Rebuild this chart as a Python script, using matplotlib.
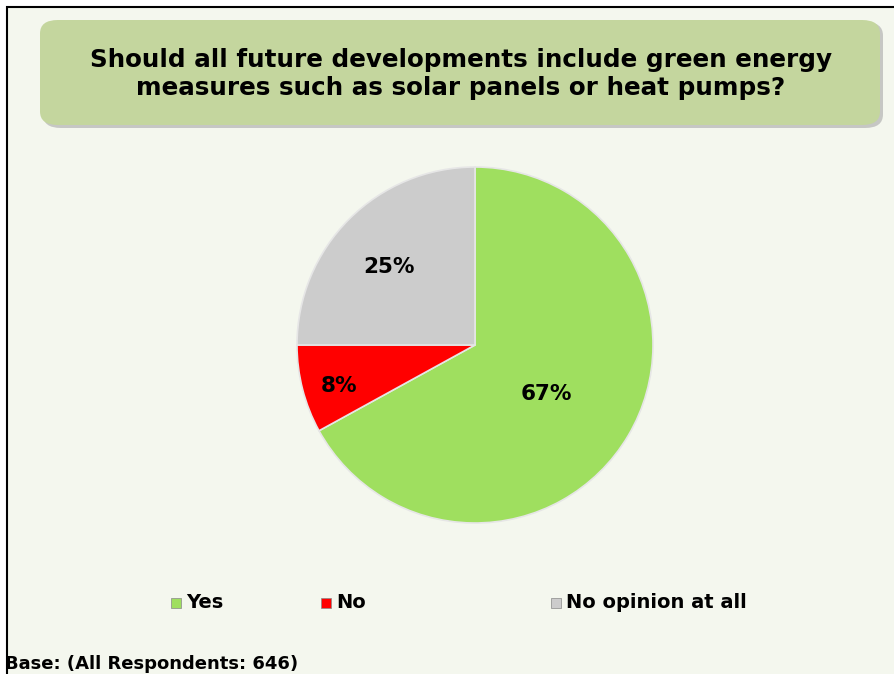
import matplotlib
matplotlib.use("Agg")
import matplotlib.pyplot as plt
from matplotlib.patches import FancyBboxPatch, Rectangle
from matplotlib.transforms import ScaledTranslation
import numpy as np

categories = ["Yes", "No", "No opinion at all"]
values = [67, 8, 25]
colors = ["#9FDF5F", "#FF0000", "#CCCCCC"]
title = "Should all future developments include green energy\nmeasures such as solar panels or heat pumps?"
base_text = "Base: (All Respondents: 646)"

W, H = 895, 674
fig = plt.figure(figsize=(W / 100, H / 100), dpi=100)
fig.patch.set_facecolor("#F4F7EE")

def fx(px):
    return px / W

def fy(py):
    return 1 - py / H

# border
fig.add_artist(Rectangle((fx(7), fy(700)), fx(900) - fx(7), fy(7) - fy(700),
                         transform=fig.transFigure, facecolor="none",
                         edgecolor="black", linewidth=1.5, zorder=5))
# white margin above/left of border
fig.add_artist(Rectangle((0, 0), fx(6.2), 1, transform=fig.transFigure,
                         facecolor="white", edgecolor="none", zorder=4))
fig.add_artist(Rectangle((0, fy(6.2)), 1, 6.2 / H, transform=fig.transFigure,
                         facecolor="white", edgecolor="none", zorder=4))

# title box with shadow
fig.add_artist(FancyBboxPatch((fx(43), fy(128)), fx(883) - fx(43), fy(22) - fy(128),
                              boxstyle="round,pad=0,rounding_size=0.02",
                              transform=fig.transFigure, facecolor="#A8A8A8",
                              edgecolor="none", alpha=0.6, zorder=1))
fig.add_artist(FancyBboxPatch((fx(40), fy(125)), fx(880) - fx(40), fy(20) - fy(125),
                              boxstyle="round,pad=0,rounding_size=0.02",
                              transform=fig.transFigure, facecolor="#C4D69E",
                              edgecolor="none", zorder=2))
fig.text(fx(461), fy(74), title, ha="center", va="center", fontsize=17.7,
         fontweight="bold", color="black", linespacing=1.2, zorder=3)

# pie
cx, cy, r = 475, 345, 178
ax = fig.add_axes([fx(cx - r), fy(cy + r), 2 * r / W, 2 * r / H])
wedges, _ = ax.pie(values, colors=colors, startangle=90, counterclock=False,
                   radius=1, wedgeprops=dict(edgecolor="#E6E6E6", linewidth=1.2))
ax.set_xlim(-1, 1)
ax.set_ylim(-1, 1)
ax.axis("off")
label_dist = [0.48, 0.78, 0.67]
shift = ax.transData + ScaledTranslation(-2 / 100, -6 / 100, fig.dpi_scale_trans)
for w, v, d in zip(wedges, values, label_dist):
    ang = np.deg2rad((w.theta1 + w.theta2) / 2)
    ax.text(d * np.cos(ang), d * np.sin(ang), f"{v}%", ha="center", va="center",
            fontsize=15.5, fontweight="bold", color="black", transform=shift)

# legend
leg_x = [176, 326, 556]
leg_y = 603
for x, c, lab in zip(leg_x, colors, categories):
    fig.add_artist(Rectangle((fx(x - 5), fy(leg_y + 5)), fx(10), 10 / H,
                             transform=fig.transFigure, facecolor=c,
                             edgecolor="#888888", linewidth=0.5))
    fig.text(fx(x + 10), fy(leg_y), lab, ha="left", va="center", fontsize=14,
             fontweight="bold", color="black")

fig.text(fx(5), fy(664), base_text, ha="left", va="center", fontsize=13,
         fontweight="bold", color="black")

fig.savefig("out.png", dpi=100, facecolor=fig.get_facecolor())
